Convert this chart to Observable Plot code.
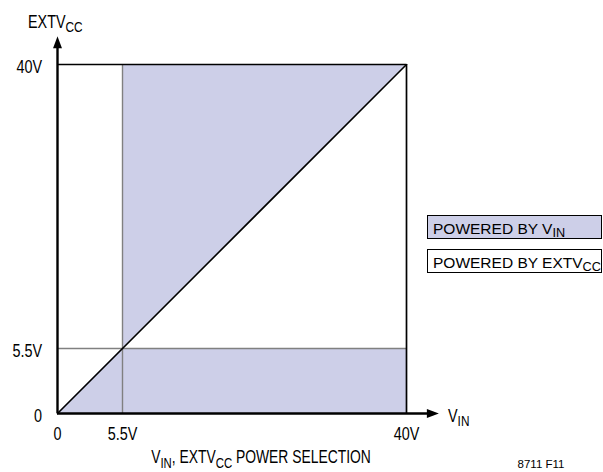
<!DOCTYPE html>
<html><head><meta charset="utf-8">
<script src="https://cdn.jsdelivr.net/npm/d3@7"></script>
<script src="https://cdn.jsdelivr.net/npm/@observablehq/plot@0.6"></script>
<style>
body{margin:0;background:#fff}
svg{display:block}
</style>
</head><body><div id="chart"></div>
<script>
// ---- data ----
const tickValues = [0, 5.5, 40];
const xTickLabels = ["0", "5.5V", "40V"];
const yTickLabels = ["0", "5.5V", "40V"];
const threshold = [5.5];
const maxV = [40];
// region powered by VIN (lower band incl. small triangle under diagonal)
const lowerX = [0, 5.5, 40];
const lowerTop = [0, 5.5, 5.5];
// region powered by VIN (triangle above diagonal, right of 5.5V)
const upperX = [5.5, 40];
const upperBottom = [5.5, 40];
const upperTop = [40, 40];
// diagonal VIN = EXTVCC
const diagX = [0, 40];
const diagY = [0, 40];
// axis extents (arrow heads beyond 40V)
const axisStart = [0];
const xAxisEnd = [42.6];
const yAxisEnd = [42.1];
const legendLabels = ["POWERED BY V_IN", "POWERED BY EXTV_CC"];
const legendFills = ["#cdcfe8", "#ffffff"];
const xAxisLabel = "V_IN";
const yAxisLabel = "EXTV_CC";
const title = "V_IN, EXTV_CC POWER SELECTION";
const figureId = "8711 F11";

// ---- build ----
const fillColor = "#cdcfe8";
const FONT = "'Liberation Sans', Arial, sans-serif";
const lower = lowerX.map((x, i) => ({x, y1: 0, y2: lowerTop[i]}));
const upper = upperX.map((x, i) => ({x, y1: upperBottom[i], y2: upperTop[i]}));
const diag = diagX.map((x, i) => ({x, y: diagY[i]}));

const arrowHead = {
  draw(ctx) {
    ctx.moveTo(0, -11);
    ctx.lineTo(4.5, 1);
    ctx.lineTo(-4.5, 1);
    ctx.closePath();
  }
};

const lbl = (labels) => d => labels[tickValues.indexOf(d)];

const chart = Plot.plot({
  width: 603,
  height: 472,
  marginLeft: 57, marginRight: 197, marginTop: 64, marginBottom: 59,
  style: {fontFamily: FONT, fontSize: "18px", background: "#fff", color: "#000"},
  x: {type: "linear", domain: [0, 5.5, 40], range: [57, 122, 406]},
  y: {type: "linear", domain: [0, 5.5, 40], range: [413, 348, 64]},
  marks: [
    Plot.areaY(lower, {x: "x", y1: "y1", y2: "y2", fill: fillColor}),
    Plot.areaY(upper, {x: "x", y1: "y1", y2: "y2", fill: fillColor}),
    Plot.ruleX(threshold, {y1: 0, y2: 40, stroke: "#808080", strokeWidth: 1.4}),
    Plot.ruleY(threshold, {x1: 0, x2: 40, stroke: "#808080", strokeWidth: 1.4}),
    Plot.ruleY(maxV, {x1: 0, x2: 40, stroke: "#000", strokeWidth: 1.7}),
    Plot.ruleX(maxV, {y1: 0, y2: 40, stroke: "#000", strokeWidth: 1.7}),
    Plot.line(diag, {x: "x", y: "y", stroke: "#000", strokeWidth: 1.6}),
    Plot.ruleX(axisStart, {y1: 0, y2: yAxisEnd[0], stroke: "#000", strokeWidth: 2.4}),
    Plot.ruleY(axisStart, {x1: 0, x2: xAxisEnd[0], stroke: "#000", strokeWidth: 2.4}),
    Plot.dot(yAxisEnd, {x: 0, y: d => d, symbol: arrowHead, fill: "#000", stroke: null, r: 5}),
    Plot.dot(xAxisEnd, {x: d => d, y: 0, symbol: arrowHead, fill: "#000", stroke: null, r: 5, rotate: 90}),
    Plot.axisX({ticks: tickValues, tickFormat: lbl(xTickLabels), tickSize: 0, tickPadding: 14, label: null, fontSize: 18}),
    Plot.axisY({ticks: tickValues, tickFormat: lbl(yTickLabels), tickSize: 0, tickPadding: 13, dy: 3, label: null, fontSize: 18})
  ]
});

document.getElementById("chart").appendChild(chart);
const svg = d3.select(chart);

// mark plot's own texts (tick labels) for horizontal condensing
svg.selectAll("text").attr("data-sx", 0.8);

function addText(x, y, str, size, anchor, sx) {
  return svg.append("text")
    .attr("x", x).attr("y", y)
    .attr("font-family", FONT)
    .attr("font-size", size)
    .attr("text-anchor", anchor || "start")
    .attr("fill", "#000")
    .attr("data-sx", sx || 1)
    .text(str);
}

// axis labels, title, figure id
addText(28, 28, yAxisLabel, 18, "start", 0.8);
addText(448, 422, xAxisLabel, 18, "start", 0.8);
addText(261, 463.5, title, 18.5, "middle", 0.75);
addText(541, 468, figureId, 11.5, "middle", 1);

// legend
legendLabels.forEach((t, i) => {
  const y0 = 215 + i * 34;
  svg.append("rect").attr("x", 427.5).attr("y", y0 + 0.5).attr("width", 174).attr("height", 23)
    .attr("fill", legendFills[i]).attr("stroke", "#000").attr("stroke-width", 1);
  addText(433, y0 + 18.5, t, 15.5, "start", 1);
});

// subscripts: "X_SUB" -> X with subscript SUB
svg.selectAll("text").each(function() {
  const s = this.textContent;
  if (!s.includes("_")) return;
  const base = parseFloat(this.getAttribute("font-size")) || 18;
  const shift = base * 0.24;
  const parts = s.split(/_([A-Z]+)/);
  const el = d3.select(this);
  el.text(null);
  parts.forEach((p, i) => {
    if (p === "") return;
    const ts = el.append("tspan").text(p);
    if (i % 2 === 1) {
      ts.attr("font-size", base * 0.82).attr("dy", shift);
    } else if (i > 0) {
      ts.attr("dy", -shift);
    }
  });
});

// horizontal condensing around each text's anchor point
const svgRect = chart.getBoundingClientRect();
svg.selectAll("text").each(function() {
  const sx = +this.getAttribute("data-sx");
  if (!sx || sx === 1) return;
  const r = this.getBoundingClientRect();
  const anchor = getComputedStyle(this).textAnchor;
  const left = r.left - svgRect.left;
  const ax = anchor === "end" ? left + r.width : anchor === "middle" ? left + r.width / 2 : left;
  const g = document.createElementNS("http://www.w3.org/2000/svg", "g");
  g.setAttribute("transform", `translate(${ax},0) scale(${sx},1) translate(${-ax},0)`);
  this.parentNode.insertBefore(g, this);
  g.appendChild(this);
});
</script>
</body></html>
